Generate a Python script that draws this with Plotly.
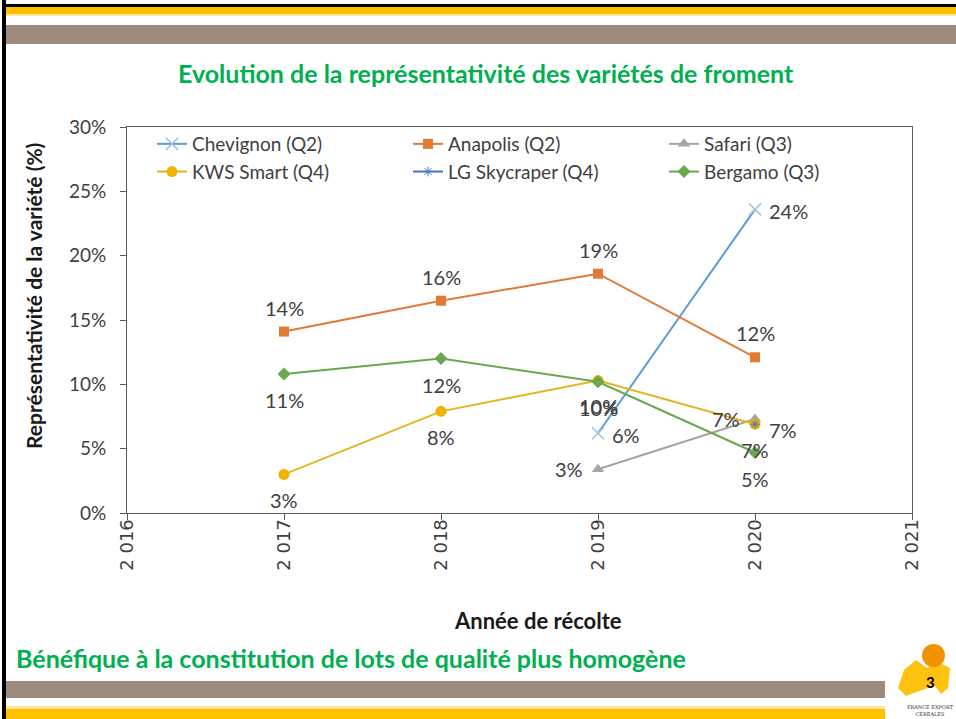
import plotly.graph_objects as go

years = [2017, 2018, 2019, 2020]
chevignon = [None, None, 0.062, 0.236]
anapolis = [0.141, 0.165, 0.186, 0.121]
safari = [None, None, 0.034, 0.073]
kws_smart = [0.030, 0.079, 0.103, 0.069]
lg_skycraper = [None, None, None, 0.069]
bergamo = [0.108, 0.120, 0.102, 0.047]

xtick_vals = [2016, 2017, 2018, 2019, 2020, 2021]
xtick_text = ["2 016", "2 017", "2 018", "2 019", "2 020", "2 021"]

W, H = 956, 719
L, R, T, B = 127, 912, 127, 513


def px(x):
    return (x - L) / (R - L)


def py(y):
    return (B - y) / (B - T)


FONT = "Lato"
LABEL = dict(family=FONT, size=20, color="#404040")

# name, values, line colour, marker, label placement (xanchor, xshift, yshift)
series = [
    ("Chevignon (Q2)", chevignon, "#5B9BD5", dict(symbol="x-thin", size=12, line=dict(width=1.5, color="#9DC3E6"), color="#9DC3E6"), ("left", 12, -2)),
    ("Anapolis (Q2)", anapolis, "#E07A35", dict(symbol="square", size=10, color="#E07A35"), ("center", 0, 24)),
    ("Safari (Q3)", safari, "#A5A5A5", dict(symbol="triangle-up", size=11, color="#A5A5A5"), ("right", -13, 0)),
    ("KWS Smart (Q4)", kws_smart, "#E6B422", dict(symbol="circle", size=11, color="#F0B400"), ("center", 0, -26)),
    ("LG Skycraper (Q4)", lg_skycraper, "#4472C4", dict(symbol="asterisk", size=8, line=dict(width=1, color="#4472C4"), color="#4472C4"), ("left", 12, -6)),
    ("Bergamo (Q3)", bergamo, "#6AA84F", dict(symbol="diamond", size=10, color="#6AA84F"), ("center", 0, -26)),
]

fig = go.Figure()
annotations = []
for name, vals, col, mk, (xa, dx, dy) in series:
    fig.add_trace(go.Scatter(
        x=years, y=vals, name=name, mode="lines+markers",
        line=dict(color=col, width=2), marker=mk,
    ))
    for xv, v in zip(years, vals):
        if v is None:
            continue
        annotations.append(dict(
            x=xv, y=v, xref="x", yref="y", text=f"{round(v * 100):.0f}%",
            showarrow=False, xanchor=xa, yanchor="middle", xshift=dx, yshift=dy,
            font=LABEL))

shapes = []


def rect(x0, y0, x1, y1, color):
    shapes.append(dict(type="rect", xref="paper", yref="paper",
                       x0=px(x0), x1=px(x1), y0=py(y1), y1=py(y0),
                       fillcolor=color, line=dict(width=0), layer="below"))


# slide decorations
rect(6, 4, W, 7, "#000000")
rect(6, 7, W, 14, "#FFC000")
rect(6, 14, W, 16, "#FFE699")
rect(6, 25, W, 44, "#9E8B7E")
rect(6, 681, 885, 698, "#9E8B7E")
rect(6, 706, 885, 709, "#FFE699")
rect(6, 709, 885, 719, "#FFC000")
rect(2, 0, 6, H, "#000000")

# logo
logo_pts = [(898, 688), (904, 670), (916, 660), (927, 668), (938, 662), (950, 668),
            (948, 688), (941, 694), (935, 686), (922, 690), (906, 696)]
path = "M " + " L ".join(f"{px(a)} {py(b)}" for a, b in logo_pts) + " Z"
shapes.append(dict(type="path", xref="paper", yref="paper", path=path,
                   fillcolor="#FFC20E", line=dict(width=0)))
shapes.append(dict(type="circle", xref="paper", yref="paper",
                   x0=px(922), x1=px(945), y0=py(667), y1=py(644),
                   fillcolor="#F39200", line=dict(width=0)))

annotations += [
    dict(text="<b>Evolution de la représentativité des variétés de froment</b>",
         x=px(486), y=py(73), xref="paper", yref="paper", showarrow=False,
         xanchor="center", yanchor="middle",
         font=dict(family=FONT, size=25, color="#00B050")),
    dict(text="<b>Bénéfique à la constitution de lots de qualité plus homogène</b>",
         x=px(14), y=py(658), xref="paper", yref="paper", showarrow=False,
         xanchor="left", yanchor="middle",
         font=dict(family=FONT, size=25, color="#00B050")),
    dict(text="<b>Année de récolte</b>", x=px(538), y=py(620), xref="paper", yref="paper",
         showarrow=False, xanchor="center", yanchor="middle",
         font=dict(family=FONT, size=22, color="#1a1a1a")),
    dict(text="<b>Représentativité de la variété (%)</b>", x=px(33), y=py(296),
         xref="paper", yref="paper", showarrow=False, xanchor="center", yanchor="middle",
         textangle=-90, font=dict(family=FONT, size=21, color="#1a1a1a")),
    dict(text="<b>3</b>", x=px(930), y=py(682), xref="paper", yref="paper", showarrow=False,
         xanchor="center", yanchor="middle",
         font=dict(family=FONT, size=15, color="#000000")),
    dict(text="FRANCE EXPORT<br>CÉRÉALES", x=px(930), y=py(710), xref="paper", yref="paper",
         showarrow=False, xanchor="center", yanchor="middle",
         font=dict(family="DejaVu Serif", size=5, color="#333333")),
]

fig.update_layout(
    width=W, height=H,
    margin=dict(l=L, r=W - R, t=T, b=H - B),
    paper_bgcolor="white", plot_bgcolor="white",
    showlegend=True,
    legend=dict(orientation="h", x=px(152), y=py(125), xanchor="left", yanchor="top",
                entrywidth=211, entrywidthmode="pixels", bgcolor="rgba(0,0,0,0)",
                font=dict(family=FONT, size=19, color="#404040"), tracegroupgap=0,
                itemwidth=30),
    xaxis=dict(range=[2016, 2021], tickvals=xtick_vals, ticktext=xtick_text,
               tickangle=-90, tickfont=dict(family="DejaVu Sans", size=18, color="#404040"),
               ticklabelstandoff=-8,
               showgrid=False, zeroline=False, showline=True, linecolor="#595959",
               linewidth=1, mirror=True, ticks="outside", ticklen=6, tickcolor="#595959"),
    yaxis=dict(range=[0, 0.30], dtick=0.05, tickformat=".0%",
               tickfont=dict(family=FONT, size=19, color="#404040"),
               ticklabelstandoff=10,
               showgrid=False, zeroline=False, showline=True, linecolor="#595959",
               linewidth=1, mirror=True, ticks="outside", ticklen=6, tickcolor="#595959"),
    shapes=shapes, annotations=annotations,
)

fig.write_html("out.html", config={"displayModeBar": False},
               post_script="document.body.style.margin='0';document.body.style.padding='0';")
